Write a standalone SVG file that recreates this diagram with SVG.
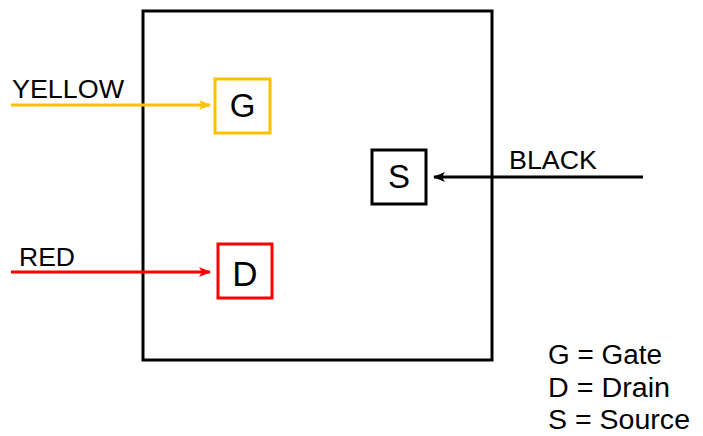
<svg xmlns="http://www.w3.org/2000/svg" width="703" height="436" viewBox="0 0 703 436">
<style>
text{font-family:"Liberation Sans",Arial,sans-serif;fill:#000}
.lbl{font-size:25px}
.pin{font-size:33px;text-anchor:middle}
.leg{font-size:27px}
.box{fill:#fff;stroke-width:3}
.wire{stroke-width:3;fill:none}
</style>
<defs>
<marker id="ay" viewBox="0 0 12 10" refX="11" refY="5" markerWidth="12" markerHeight="10" markerUnits="userSpaceOnUse" orient="auto"><path d="M0,0 L12,5 L0,10 L3,5 Z" fill="#FFC000"/></marker>
<marker id="ar" viewBox="0 0 12 10" refX="11" refY="5" markerWidth="12" markerHeight="10" markerUnits="userSpaceOnUse" orient="auto"><path d="M0,0 L12,5 L0,10 L3,5 Z" fill="#FF0000"/></marker>
<marker id="ak" viewBox="0 0 12 10" refX="11" refY="5" markerWidth="12" markerHeight="10" markerUnits="userSpaceOnUse" orient="auto"><path d="M0,0 L12,5 L0,10 L3,5 Z" fill="#000"/></marker>
</defs>
<rect width="703" height="436" fill="#fff"/>
<g id="device"><rect x="143" y="11" width="349" height="349" fill="none" stroke="#000" stroke-width="3"/></g>
<g id="connectors">
<line class="wire" x1="11" y1="105" x2="210" y2="105" stroke="#FFC000" marker-end="url(#ay)"/>
<line class="wire" x1="11" y1="272" x2="210" y2="272" stroke="#FF0000" marker-end="url(#ar)"/>
<line class="wire" x1="643" y1="177" x2="434" y2="177" stroke="#000" marker-end="url(#ak)"/>
</g>
<g id="label-yellow"><text class="lbl" x="12" y="98" textLength="112" lengthAdjust="spacingAndGlyphs">YELLOW</text></g>
<g id="label-red"><text class="lbl" x="19" y="266" textLength="56" lengthAdjust="spacingAndGlyphs">RED</text></g>
<g id="label-black"><text class="lbl" x="509" y="169" textLength="88" lengthAdjust="spacingAndGlyphs">BLACK</text></g>
<g id="gate"><rect class="box" x="215" y="79" width="55" height="54" stroke="#FFC000"/><text class="pin" x="242.5" y="117">G</text></g>
<g id="drain"><rect class="box" x="218" y="244" width="54" height="54" stroke="#FF0000"/><text class="pin" x="245" y="286" style="font-size:35px">D</text></g>
<g id="source"><rect class="box" x="372" y="150" width="54" height="54" stroke="#000"/><text class="pin" x="399" y="188">S</text></g>
<g id="legend">
<text class="leg" x="548" y="364" textLength="114" lengthAdjust="spacingAndGlyphs">G = Gate</text>
<text class="leg" x="548" y="397" textLength="122" lengthAdjust="spacingAndGlyphs">D = Drain</text>
<text class="leg" x="548" y="429" textLength="142" lengthAdjust="spacingAndGlyphs">S = Source</text>
</g>
</svg>
